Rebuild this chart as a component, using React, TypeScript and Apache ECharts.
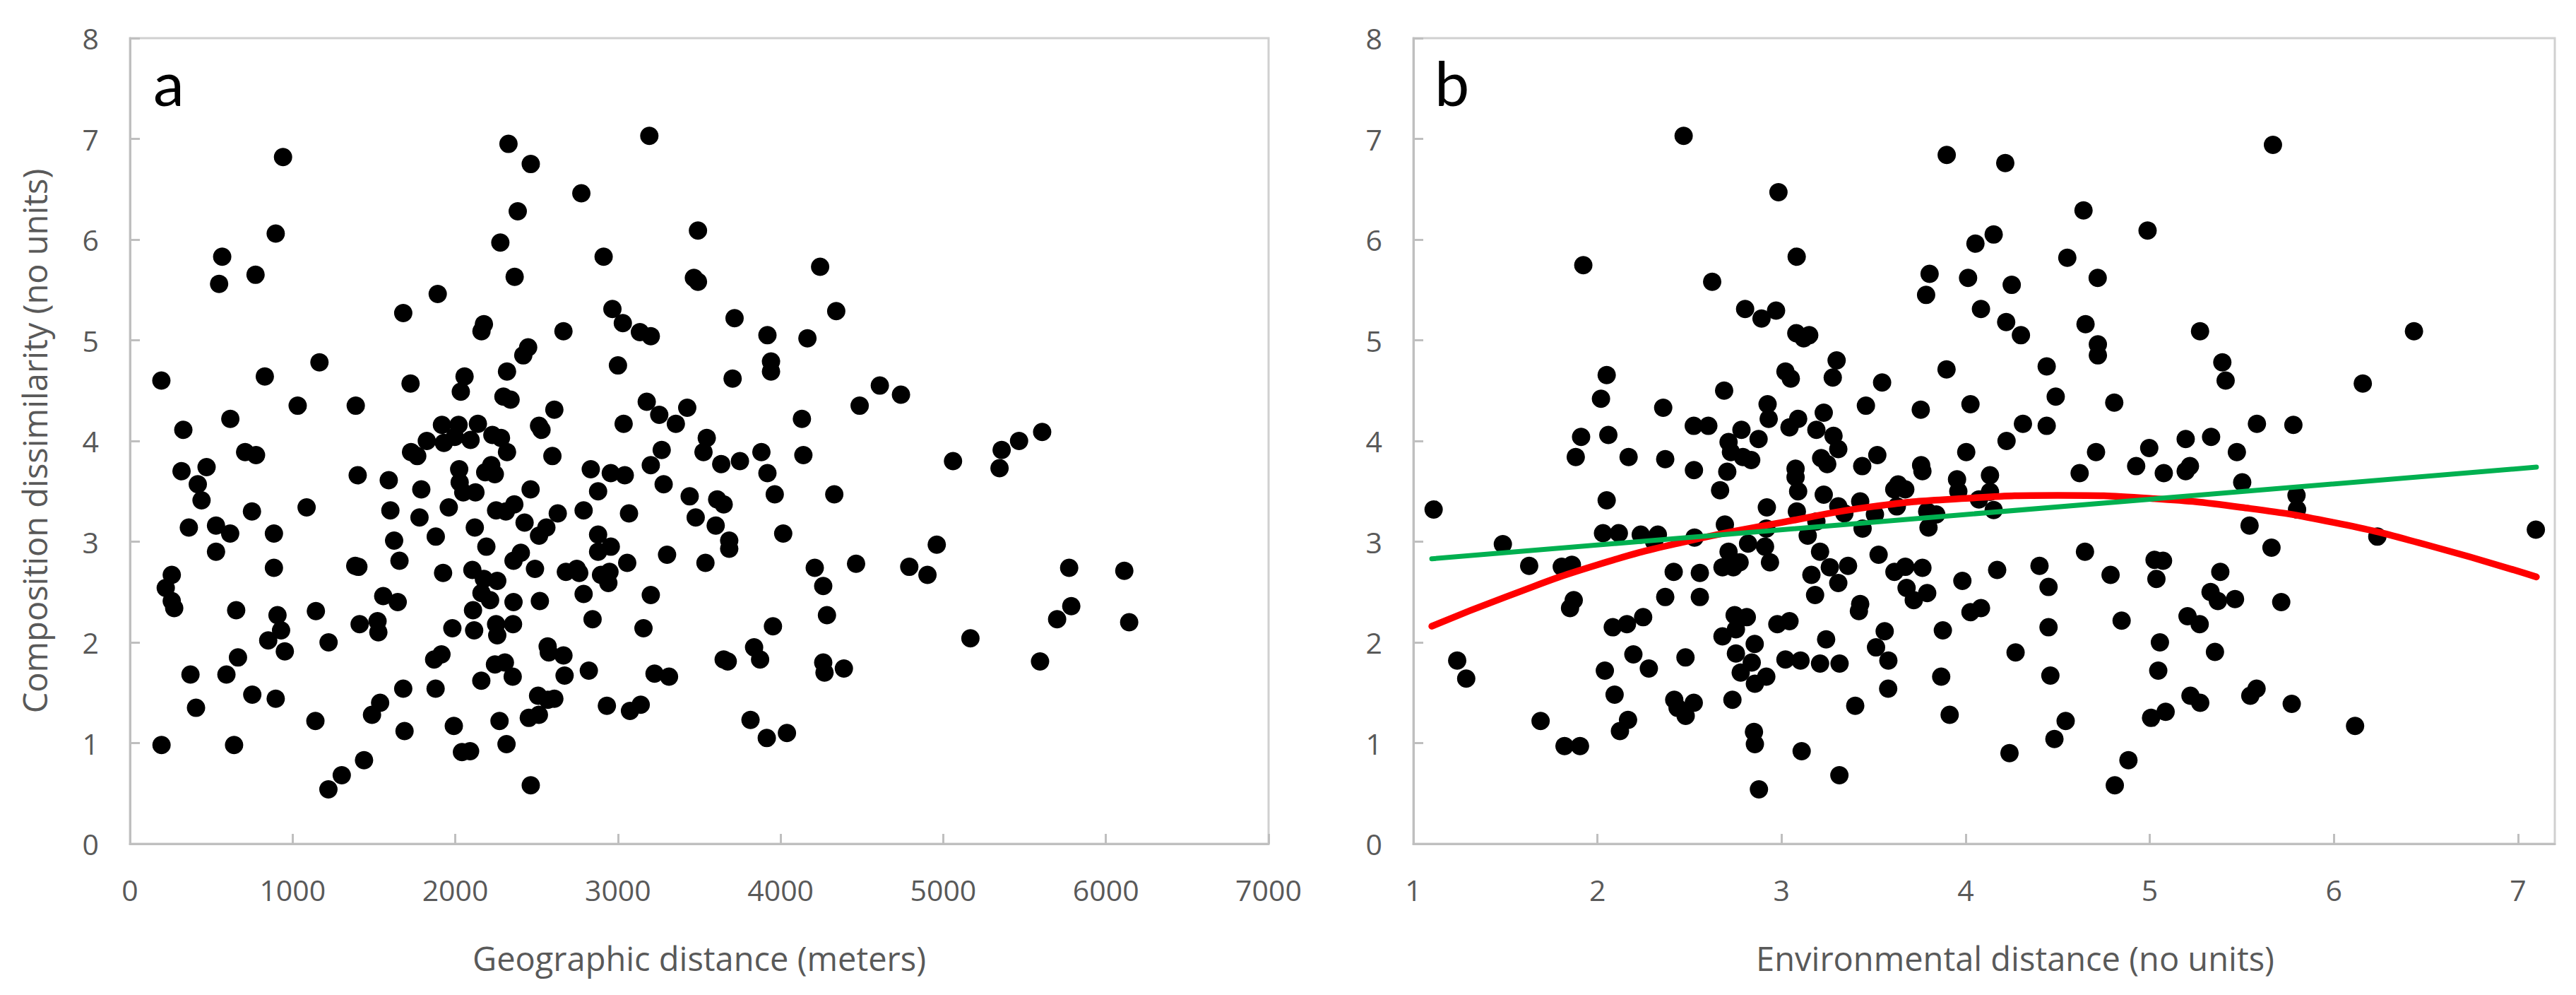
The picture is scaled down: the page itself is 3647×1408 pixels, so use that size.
import React, { useEffect, useRef } from "react";
import * as echarts from "echarts";

// Panel a: geographic distance (m) vs composition dissimilarity
const geoPoints: number[][] = [
  [2327,6.95],[2464,6.75],[941,6.82],[2775,6.46],[2384,6.28],[896,6.06],[2277,5.97],[567,5.83],[2912,5.83],[548,5.56],[772,5.65],[2365,5.63],[1892,5.46],[3193,7.03],[3492,6.09],[3467,5.62],[3492,5.58],[4243,5.73],
  [1680,5.27],[2176,5.16],[2161,5.09],[2318,4.69],[2296,4.44],[2340,4.41],[1165,4.78],[193,4.60],[829,4.64],[1725,4.57],[2057,4.64],[2034,4.49],[1031,4.35],[1388,4.35],[617,4.22],[328,4.11],[708,3.89],[775,3.86],
  [1918,4.16],[2020,4.16],[2139,4.17],[1825,4.00],[1930,3.98],[1997,4.04],[2094,4.01],[2228,4.06],[2281,4.03],[2318,3.89],[1728,3.89],[1766,3.85],
  [471,3.74],[317,3.70],[417,3.57],[440,3.41],[1400,3.66],[1591,3.61],[1791,3.52],[2024,3.72],[2027,3.59],[2049,3.49],[2124,3.49],[2221,3.76],[2184,3.69],[2243,3.67],[2251,3.31],[2311,3.30],[2363,3.37],[750,3.30],[1086,3.34],[1601,3.31],[1780,3.24],[1960,3.34],[362,3.14],[529,3.16],[616,3.08],[885,3.08],[2120,3.14],[1624,3.01],[1880,3.05],[2191,2.95],[529,2.90],[1657,2.81],[257,2.67],[220,2.54],[257,2.41],[272,2.34],[885,2.74],[1385,2.76],[1404,2.75],[1925,2.69],[2105,2.72],[2176,2.63],[2258,2.61],[2161,2.49],[2214,2.42],[2109,2.32],[1557,2.46],[1646,2.40],[653,2.32],[907,2.27],[929,2.12],[850,2.02],[952,1.91],[1143,2.31],[1412,2.18],[1522,2.21],[1527,2.10],[1221,2.00],[664,1.85],[372,1.68],[593,1.68],[1982,2.14],[2116,2.12],[2251,2.18],[2258,2.07],[1870,1.83],[1915,1.88],[2244,1.78],
  [2966,5.31],[3030,5.17],[3135,5.08],[3202,5.04],[2665,5.09],[2448,4.93],[2418,4.85],[3000,4.75],[3717,5.22],[3919,5.05],[4165,5.02],[4342,5.29],[3941,4.79],[3941,4.69],[3705,4.62],[4610,4.55],[4740,4.46],[4486,4.35],[4131,4.22],[2609,4.31],[2515,4.15],[2530,4.11],[3035,4.17],[3177,4.39],[3254,4.26],[3356,4.17],[3426,4.33],[3546,4.03],[3526,3.89],[3269,3.91],[3202,3.76],[2597,3.85],[3635,3.77],[3750,3.80],[3882,3.89],[3919,3.68],[4140,3.86],[2833,3.72],[2956,3.68],[3042,3.66],[3281,3.57],[2463,3.52],[2878,3.50],[3964,3.47],[4330,3.47],[3441,3.45],[3610,3.42],[3650,3.37],[2630,3.28],[2789,3.31],[3068,3.28],[2426,3.19],[2560,3.14],[2515,3.06],[3478,3.24],[3601,3.16],[4016,3.08],[3684,3.01],[3684,2.93],[2878,3.07],[2956,2.95],[2878,2.90],[2403,2.89],[2358,2.81],[2490,2.73],[2680,2.70],[2747,2.73],[2762,2.69],[2896,2.67],[2948,2.70],[2941,2.59],[3057,2.79],[3302,2.87],[3538,2.79],[4210,2.74],[4464,2.78],[2789,2.48],[3202,2.47],[4262,2.56],[2358,2.40],[2520,2.41],[2844,2.23],[3157,2.14],[4285,2.27],[3953,2.16],[2355,2.18],[2568,1.96],[2575,1.90],[2665,1.87],[2305,1.80],[2353,1.66],[2821,1.72],[2672,1.67],[3650,1.83],[3675,1.81],[3837,1.95],[3874,1.83],[4262,1.80],[4270,1.70],[4389,1.74],[3225,1.69],[3314,1.66],
  [5060,3.80],[5359,3.91],[5466,4.00],[5608,4.09],[5346,3.73],[4960,2.97],[4791,2.75],[4903,2.67],[5774,2.74],[6113,2.71],[5787,2.36],[5700,2.23],[6143,2.20],[5167,2.04],[5595,1.81],
  [3140,1.38],[3815,1.23],[3915,1.05],[4039,1.10],[752,1.48],[896,1.44],[406,1.35],[194,0.98],[640,0.98],[1140,1.22],[1439,0.83],[1302,0.68],[1220,0.54],[1488,1.28],[1538,1.40],[1680,1.54],[1688,1.12],[1879,1.54],[1991,1.17],[2041,0.91],[2091,0.92],[2160,1.62],[2272,1.22],[2315,0.99],[2464,0.58],[2509,1.47],[2569,1.43],[2609,1.44],[2452,1.25],[2514,1.28],[2932,1.37],[3074,1.32]
];

// Panel b: environmental distance vs composition dissimilarity
const envPoints: number[][] = [
  [2.468,7.03],[2.983,6.47],[1.923,5.745],[3.082,5.83],[2.623,5.58],
  [5.669,6.94],[3.897,6.84],[4.215,6.76],[4.64,6.29],[4.988,6.09],[4.152,6.05],[4.053,5.96],[4.552,5.82],[3.804,5.66],[3.785,5.45],[4.013,5.62],[4.25,5.55],[4.717,5.62],[6.435,5.09],[6.157,4.57],
  [1.11,3.32],[1.486,2.975],[1.629,2.76],[1.238,1.82],[1.287,1.64],[1.691,1.22],[1.806,2.75],[1.861,2.77],
  [2.802,5.31],[2.891,5.215],[2.970,5.295],[3.08,5.07],[3.12,5.02],[3.15,5.05],[3.299,4.80],[3.278,4.63],[3.021,4.69],[3.05,4.62],[3.546,4.58],[2.05,4.655],[2.019,4.42],[2.688,4.50],[2.357,4.33],[2.924,4.365],[2.93,4.22],[3.458,4.35],[3.756,4.31],[1.911,4.04],[2.059,4.06],[1.882,3.84],[2.169,3.84],[2.368,3.82],[2.523,4.15],[2.602,4.15],[2.782,4.11],[2.875,4.02],[3.09,4.22],[3.043,4.135],[3.229,4.28],[3.189,4.11],[3.282,4.05],[3.308,3.92],[2.712,3.99],[2.725,3.89],[2.79,3.84],[2.835,3.81],[3.215,3.83],[3.248,3.77],[3.438,3.75],[3.52,3.86],[2.524,3.71],[2.705,3.695],[3.076,3.725],[3.076,3.64],[3.09,3.50],[2.666,3.51],[3.229,3.466],[3.758,3.76],[3.765,3.70],[3.633,3.568],[3.672,3.52],[3.612,3.52],[2.05,3.41],[2.92,3.34],[3.083,3.30],[3.308,3.35],[3.341,3.28],[3.427,3.40],[3.507,3.27],[3.626,3.35],[3.791,3.30],[3.798,3.14],[3.84,3.27],[2.03,3.085],[2.116,3.085],[2.235,3.07],[2.328,3.07],[2.308,3.00],[2.527,3.04],[2.692,3.17],[2.917,3.13],[3.142,3.06],[3.189,3.20],[3.44,3.13],[2.818,2.98],[2.91,2.95],[2.712,2.90],[2.772,2.795],[2.679,2.745],[2.738,2.745],[2.937,2.795],[3.209,2.90],[3.527,2.87],[3.262,2.746],[3.361,2.76],[3.308,2.59],[3.162,2.67],[3.182,2.47],[3.613,2.70],[3.672,2.75],[3.765,2.74],[3.679,2.54],[3.718,2.42],[3.791,2.49],[2.414,2.70],[2.556,2.69],[2.368,2.45],[2.556,2.45],[1.871,2.42],[1.851,2.34],[3.427,2.38],[3.42,2.31],[2.083,2.15],[2.16,2.18],[2.248,2.25],[2.745,2.27],[2.811,2.25],[2.679,2.06],[2.752,2.13],[2.977,2.18],[3.043,2.21],[3.242,2.03],[3.56,2.11],[3.513,1.95],[3.58,1.82],[2.195,1.88],[2.279,1.74],[2.478,1.85],[2.854,1.985],[2.752,1.89],[2.838,1.80],[2.778,1.70],[2.917,1.66],[2.855,1.59],[2.04,1.72],[3.021,1.83],[3.103,1.82],[3.209,1.79],[3.315,1.79],
  [2.093,1.48],[2.166,1.23],[2.122,1.12],[2.417,1.43],[2.435,1.35],[2.479,1.27],[2.523,1.40],[2.733,1.43],[2.85,1.11],[2.855,0.99],[2.877,0.54],[3.109,0.92],[3.314,0.68],[3.40,1.37],[3.579,1.54],[1.821,0.97],[1.905,0.97],
  [4.083,5.31],[4.22,5.18],[4.30,5.05],[4.651,5.16],[4.718,4.96],[4.718,4.85],[5.273,5.09],[5.394,4.78],[5.412,4.60],[3.896,4.71],[4.44,4.74],[4.026,4.365],[4.489,4.44],[4.807,4.38],[4.311,4.17],[4.44,4.15],[4.222,4.00],[4.003,3.89],[5.582,4.17],[5.78,4.16],[5.333,4.04],[5.195,4.02],[4.997,3.93],[4.708,3.89],[5.473,3.89],[4.926,3.75],[5.076,3.68],[5.195,3.70],[5.218,3.75],[4.619,3.68],[5.502,3.59],[3.953,3.62],[3.96,3.50],[4.132,3.66],[4.132,3.495],[4.072,3.42],[4.152,3.314],[5.797,3.46],[5.80,3.32],[5.542,3.16],[5.661,2.94],[4.648,2.90],[5.026,2.82],[5.072,2.81],[5.036,2.63],[4.787,2.67],[4.401,2.76],[4.45,2.55],[4.171,2.72],[3.982,2.61],[5.383,2.70],[5.33,2.50],[5.37,2.41],[5.463,2.43],[5.714,2.40],[4.083,2.34],[4.026,2.30],[3.876,2.12],[4.45,2.15],[4.847,2.215],[5.205,2.26],[5.271,2.18],[5.055,2.0],[5.354,1.905],[4.271,1.90],[3.867,1.66],[4.46,1.67],[5.046,1.72],
  [3.913,1.28],[4.238,0.90],[4.482,1.04],[4.543,1.22],[4.81,0.58],[4.884,0.83],[5.007,1.25],[5.086,1.31],[5.221,1.47],[5.274,1.40],[5.546,1.47],[5.58,1.54],[5.771,1.39],[6.115,1.17],
  [6.236,3.05],[7.097,3.12]
];

// Trend lines in panel b
const linearFitX = [1.1, 7.1];
const linearFitY = [2.83, 3.74];
const quadFitX = [1.1, 1.5, 2, 2.5, 3, 3.5, 4, 4.5, 5, 5.5, 6, 6.5, 7.1];
const quadFitY = [2.16, 2.45, 2.77, 3.01, 3.19, 3.35, 3.43, 3.46, 3.43, 3.34, 3.19, 2.97, 2.65];

const panelLabels = ["a", "b"];
const xTitles = ["Geographic distance (meters)", "Environmental distance (no units)"];
const yTitle = "Composition dissimilarity (no units)";

const GREY = "#595959";
const FONT = "'Open Sans', Lato, sans-serif";
const LABEL_FONT = "Lato, 'Open Sans', sans-serif";

export default function App() {
  const ref = useRef<HTMLDivElement>(null);
  useEffect(() => {
    document.body.style.margin = "0";
    const chart = echarts.init(ref.current!, null, { renderer: "svg" });
    const axisLine = { show: true, lineStyle: { color: "#bfbfbf", width: 3 } };
    const axisTick = { show: true, inside: true, length: 14, lineStyle: { color: "#bfbfbf", width: 3 } };
    const label = (extra: any = {}) => ({
      color: GREY, fontSize: 41, fontFamily: FONT, margin: 44,
      formatter: (v: number) => String(v), ...extra,
    });
    const nameStyle = { color: GREY, fontSize: 47, fontFamily: FONT };
    const grid = (left: number, width: number) => ({
      left, top: 54, width, height: 1140, show: true, borderColor: "#d0d0d0", borderWidth: 3,
      backgroundColor: "transparent",
    });
    const option: any = {
      animation: false,
      backgroundColor: "#ffffff",
      grid: [grid(184, 1612), grid(2001, 1616)],
      xAxis: [
        {
          gridIndex: 0, type: "value", min: 0, max: 7000, interval: 1000,
          name: xTitles[0], nameLocation: "middle", nameGap: 138, nameTextStyle: nameStyle,
          axisLine, axisTick, axisLabel: label(), splitLine: { show: false },
        },
        {
          gridIndex: 1, type: "value", min: 1, max: 7.2, interval: 1,
          name: xTitles[1], nameLocation: "middle", nameGap: 138,
          nameTextStyle: { ...nameStyle, padding: [0, 0, 0, 88] },
          axisLine, axisTick, axisLabel: label({ showMaxLabel: false }), splitLine: { show: false },
        },
      ],
      yAxis: [
        {
          gridIndex: 0, type: "value", min: 0, max: 8, interval: 1,
          name: yTitle, nameLocation: "middle", nameGap: 112, nameRotate: 90, nameTextStyle: nameStyle,
          axisLine, axisTick, axisLabel: label(), splitLine: { show: false },
        },
        {
          gridIndex: 1, type: "value", min: 0, max: 8, interval: 1,
          axisLine, axisTick, axisLabel: label(), splitLine: { show: false },
        },
      ],
      series: [
        {
          type: "scatter", xAxisIndex: 0, yAxisIndex: 0, data: geoPoints,
          symbol: "circle", symbolSize: 26, itemStyle: { color: "#000000", opacity: 1 }, z: 2,
        },
        {
          type: "scatter", xAxisIndex: 1, yAxisIndex: 1, data: envPoints,
          symbol: "circle", symbolSize: 26, itemStyle: { color: "#000000", opacity: 1 }, z: 2,
        },
        {
          type: "line", xAxisIndex: 1, yAxisIndex: 1,
          data: quadFitX.map((x, i) => [x, quadFitY[i]]),
          smooth: true, symbol: "none", lineStyle: { color: "#ff0000", width: 9.5, cap: "round" }, z: 3,
        },
        {
          type: "line", xAxisIndex: 1, yAxisIndex: 1,
          data: linearFitX.map((x, i) => [x, linearFitY[i]]),
          symbol: "none", lineStyle: { color: "#00b050", width: 7, cap: "round" }, z: 4,
        },
      ],
      graphic: [
        { type: "text", left: 217, top: 72, style: { text: panelLabels[0], font: `88px ${LABEL_FONT}`, fill: "#000" } },
        { type: "text", left: 2031, top: 72, style: { text: panelLabels[1], font: `88px ${LABEL_FONT}`, fill: "#000" } },
      ],
    };
    chart.setOption(option);
    return () => chart.dispose();
  }, []);
  return <div ref={ref} style={{ width: 3647, height: 1408 }} />;
}
